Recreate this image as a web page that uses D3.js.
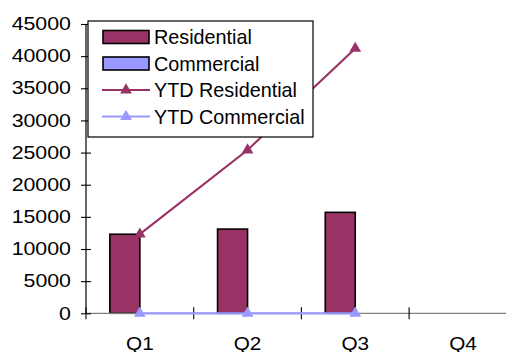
<!DOCTYPE html>
<html><head><meta charset="utf-8">
<script src="https://cdn.jsdelivr.net/npm/d3@7"></script>
<style>html,body{margin:0;padding:0;background:#fff;}svg{display:block;}</style>
</head><body>
<script>
const categories = ["Q1", "Q2", "Q3", "Q4"];
const residential = [12300, 13100, 15700, null];
const commercial = [0, 0, 0, null];
const ytdResidential = [12300, 25400, 41200, null];
const ytdCommercial = [0, 0, 0, null];
const yTicks = [0, 5000, 10000, 15000, 20000, 25000, 30000, 35000, 40000, 45000];
const barSeries = ["Residential", "Commercial"];
const legendLabels = ["Residential", "Commercial", "YTD Residential", "YTD Commercial"];

const W = 506, H = 352;
const resColor = "#993366", comColor = "#9999FF";
const font = "Liberation Sans, Arial, sans-serif";

const svg = d3.select("body").append("svg").attr("width", W).attr("height", H);

const x0 = d3.scaleBand().domain(categories).range([86, 86 + 4 * 107.7]);
const y = d3.scaleLinear().domain([0, 45000]).range([313.3, 24]);
const bw = 30;
const x1 = d3.scaleBand().domain(barSeries)
  .range([x0.bandwidth() / 2 - bw, x0.bandwidth() / 2 + bw]);
const cx = c => x0(c) + x0.bandwidth() / 2;

// bars
const barData = [residential, commercial];
barSeries.forEach((s, si) => {
  svg.append("g").selectAll("rect")
    .data(categories.map((c, i) => ({c, v: barData[si][i]})).filter(d => d.v != null && d.v > 0))
    .join("rect")
    .attr("x", d => x0(d.c) + x1(s))
    .attr("y", d => y(d.v))
    .attr("width", x1.bandwidth())
    .attr("height", d => y(0) - y(d.v))
    .attr("fill", si === 0 ? resColor : comColor)
    .attr("stroke", "#000").attr("stroke-width", 1.6);
});

// x axis line (gray)
svg.append("line").attr("x1", 86).attr("x2", W).attr("y1", y(0)).attr("y2", y(0))
  .attr("stroke", "#808080").attr("stroke-width", 1.3);

// y axis
const yAxis = d3.axisLeft(y).tickValues(yTicks).tickSize(0).tickFormat(d3.format("d"));
const yg = svg.append("g").attr("transform", "translate(86,0)").call(yAxis);
yg.select(".domain").remove();
yg.selectAll(".tick text").remove();
svg.append("line").attr("x1", 86).attr("x2", 86).attr("y1", y(45000)).attr("y2", y(0))
  .attr("stroke", "#000").attr("stroke-width", 1.2);
yg.selectAll(".tick").append("line").attr("x1", -5).attr("x2", 5)
  .attr("stroke", "#000").attr("stroke-width", 1.1);
svg.append("g").selectAll("text").data(yTicks).join("text")
  .attr("transform", d => `translate(71,${y(d) + 6.2}) scale(1.22,1)`)
  .attr("text-anchor", "end").attr("font-family", font).attr("font-size", 17.5)
  .attr("fill", "#000").text(d => d3.format("d")(d));

// x axis ticks and labels
const xAxis = d3.axisBottom(x0).tickSize(0).tickFormat("");
const xg = svg.append("g").attr("transform", `translate(0,${y(0)})`).call(xAxis);
xg.select(".domain").remove();
xg.selectAll(".tick").remove();
svg.append("g").selectAll("line").data(categories).join("line")
  .attr("x1", d => x0(d)).attr("x2", d => x0(d))
  .attr("y1", y(0) - 6).attr("y2", y(0) + 6)
  .attr("stroke", "#000").attr("stroke-width", 1.1);
svg.append("g").selectAll("text").data(categories).join("text")
  .attr("transform", d => `translate(${cx(d)},349.5) scale(1.12,1)`)
  .attr("text-anchor", "middle").attr("font-family", font).attr("font-size", 18.5)
  .attr("fill", "#000").text(d => d);

// lines
const tri = d3.symbol().type(d3.symbolTriangle).size(60);
function drawLine(vals, color) {
  const pts = categories.map((c, i) => ({c, v: vals[i]})).filter(d => d.v != null);
  svg.append("path").datum(pts)
    .attr("d", d3.line().x(d => cx(d.c)).y(d => y(d.v)))
    .attr("fill", "none").attr("stroke", color).attr("stroke-width", 2.2);
  svg.append("g").selectAll("path").data(pts).join("path")
    .attr("transform", d => `translate(${cx(d.c)},${y(d.v)})`)
    .attr("d", tri).attr("fill", color);
}
drawLine(ytdCommercial, comColor);
drawLine(ytdResidential, resColor);

// legend
const lg = svg.append("g");
lg.append("rect").attr("x", 88).attr("y", 21).attr("width", 225).attr("height", 116)
  .attr("fill", "#fff").attr("stroke", "#000").attr("stroke-width", 1.2);
const rowsY = [37, 63.5, 90, 116.5];
const kinds = [
  {type: "bar", color: resColor},
  {type: "bar", color: comColor},
  {type: "line", color: resColor},
  {type: "line", color: comColor}
];
legendLabels.forEach((lab, i) => {
  const k = kinds[i], cy = rowsY[i];
  if (k.type === "bar") {
    lg.append("rect").attr("x", 103).attr("y", cy - 6.5).attr("width", 46).attr("height", 13)
      .attr("fill", k.color).attr("stroke", "#000").attr("stroke-width", 1.6);
  } else {
    lg.append("line").attr("x1", 102).attr("x2", 150).attr("y1", cy).attr("y2", cy)
      .attr("stroke", k.color).attr("stroke-width", 2.2);
    lg.append("path").attr("transform", `translate(126,${cy})`).attr("d", tri).attr("fill", k.color);
  }
  lg.append("text").attr("x", 154).attr("y", cy + 7).attr("font-family", font)
    .attr("font-size", 19.8).attr("fill", "#000").text(lab);
});
</script>
</body></html>
